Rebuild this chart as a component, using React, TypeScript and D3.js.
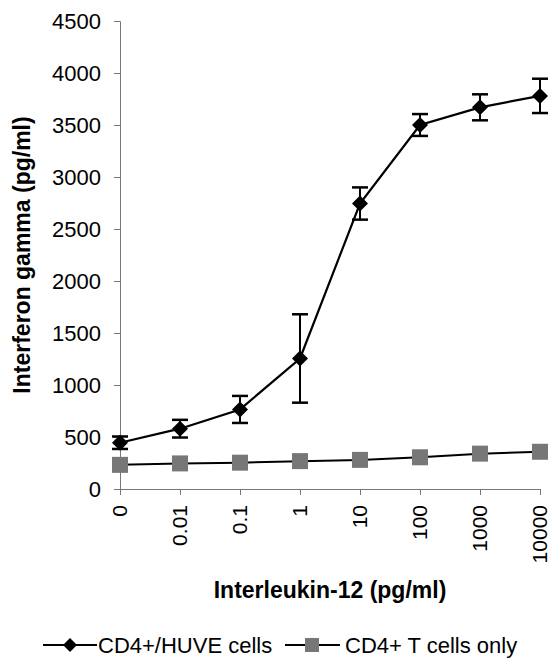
import React, { useEffect, useRef } from 'react'
import * as d3 from 'd3'

const doses = ['0', '0.01', '0.1', '1', '10', '100', '1000', '10000']
const huveMean = [445, 580, 765, 1255, 2745, 3500, 3670, 3780]
const huveErr = [60, 85, 130, 425, 155, 105, 125, 165]
const tOnly = [232, 246, 253, 268, 280, 305, 340, 358]
const yTicks = [0, 500, 1000, 1500, 2000, 2500, 3000, 3500, 4000, 4500]

const W = 550
const H = 660
const font = 'Liberation Sans, Arial, sans-serif'

export default function App() {
  const ref = useRef<SVGSVGElement>(null)

  useEffect(() => {
    const svg = d3.select(ref.current)
    svg.selectAll('*').remove()

    const x = d3.scalePoint<string>().domain(doses).range([120, 540])
    const y = d3.scaleLinear().domain([0, 4500]).range([489, 21])

    const g = svg.append('g')

    // y axis
    const yAxis = d3.axisLeft(y).tickValues(yTicks).tickSize(6).tickPadding(13).tickFormat(d3.format('d'))
    const ya = g.append('g').attr('transform', 'translate(120,0)').call(yAxis)
    ya.selectAll('text').attr('font-family', font).attr('font-size', 22).attr('fill', '#000')
    ya.selectAll('.domain, .tick line').attr('stroke', '#777').attr('stroke-width', 1)

    // x axis
    const xAxis = d3.axisBottom(x).tickSize(6).tickPadding(8).tickSizeOuter(0)
    const xa = g.append('g').attr('transform', 'translate(0,489)').call(xAxis)
    xa.selectAll('.domain, .tick line').attr('stroke', '#777').attr('stroke-width', 1)
    xa.selectAll('text')
      .attr('font-family', font)
      .attr('font-size', 21)
      .attr('fill', '#000')
      .attr('transform', 'rotate(-90)')
      .attr('text-anchor', 'end')
      .attr('dy', '0.3em')
      .attr('x', -16)
      .attr('y', 0)

    // titles
    g.append('text')
      .attr('transform', `translate(30,${(y(0) + y(4500)) / 2}) rotate(-90)`)
      .attr('text-anchor', 'middle')
      .attr('font-family', font)
      .attr('font-size', 23)
      .attr('font-weight', 'bold')
      .text('Interferon gamma (pg/ml)')

    g.append('text')
      .attr('x', 330)
      .attr('y', 598)
      .attr('text-anchor', 'middle')
      .attr('font-family', font)
      .attr('font-size', 23)
      .attr('font-weight', 'bold')
      .text('Interleukin-12 (pg/ml)')

    const line = d3.line<number>().x((_, i) => x(doses[i])!).y(d => y(d))

    // T cells only series
    g.append('path').datum(tOnly).attr('fill', 'none').attr('stroke', '#000').attr('stroke-width', 2).attr('d', line)
    g.selectAll('.sq').data(tOnly).join('rect')
      .attr('x', (_, i) => x(doses[i])! - 8)
      .attr('y', d => y(d) - 8)
      .attr('width', 16)
      .attr('height', 16)
      .attr('fill', '#777')

    // HUVE series
    g.append('path').datum(huveMean).attr('fill', 'none').attr('stroke', '#000').attr('stroke-width', 2.2).attr('d', line)

    const eb = g.selectAll('.eb').data(huveMean).join('g')
    eb.append('line')
      .attr('x1', (_, i) => x(doses[i])!)
      .attr('x2', (_, i) => x(doses[i])!)
      .attr('y1', (d, i) => y(d + huveErr[i]))
      .attr('y2', (d, i) => y(d - huveErr[i]))
      .attr('stroke', '#000').attr('stroke-width', 2)
    for (const s of [1, -1]) {
      eb.append('line')
        .attr('x1', (_, i) => x(doses[i])! - 8)
        .attr('x2', (_, i) => x(doses[i])! + 8)
        .attr('y1', (d, i) => y(d + s * huveErr[i]))
        .attr('y2', (d, i) => y(d + s * huveErr[i]))
        .attr('stroke', '#000').attr('stroke-width', 2.5)
    }

    const diamond = 'M0,-8L8,0L0,8L-8,0Z'
    g.selectAll('.dm').data(huveMean).join('path')
      .attr('d', diamond)
      .attr('transform', (d, i) => `translate(${x(doses[i])},${y(d)})`)
      .attr('fill', '#000')

    // legend
    const leg = g.append('g').attr('font-family', font).attr('font-size', 22)
    const ly = 645
    leg.append('line').attr('x1', 43).attr('x2', 97).attr('y1', ly).attr('y2', ly).attr('stroke', '#000').attr('stroke-width', 2)
    leg.append('path').attr('d', 'M0,-7L7,0L0,7L-7,0Z').attr('transform', `translate(70,${ly})`).attr('fill', '#000')
    leg.append('text').attr('x', 98).attr('y', ly).attr('dy', '0.35em').text('CD4+/HUVE cells')

    leg.append('line').attr('x1', 285).attr('x2', 340).attr('y1', ly).attr('y2', ly).attr('stroke', '#000').attr('stroke-width', 2)
    leg.append('rect').attr('x', 305).attr('y', ly - 7).attr('width', 14).attr('height', 14).attr('fill', '#777')
    leg.append('text').attr('x', 345).attr('y', ly).attr('dy', '0.35em').text('CD4+ T cells only')
  }, [])

  return (
    <svg ref={ref} width={W} height={H} style={{ position: 'absolute', left: 0, top: 0, background: '#fff' }} />
  )
}
